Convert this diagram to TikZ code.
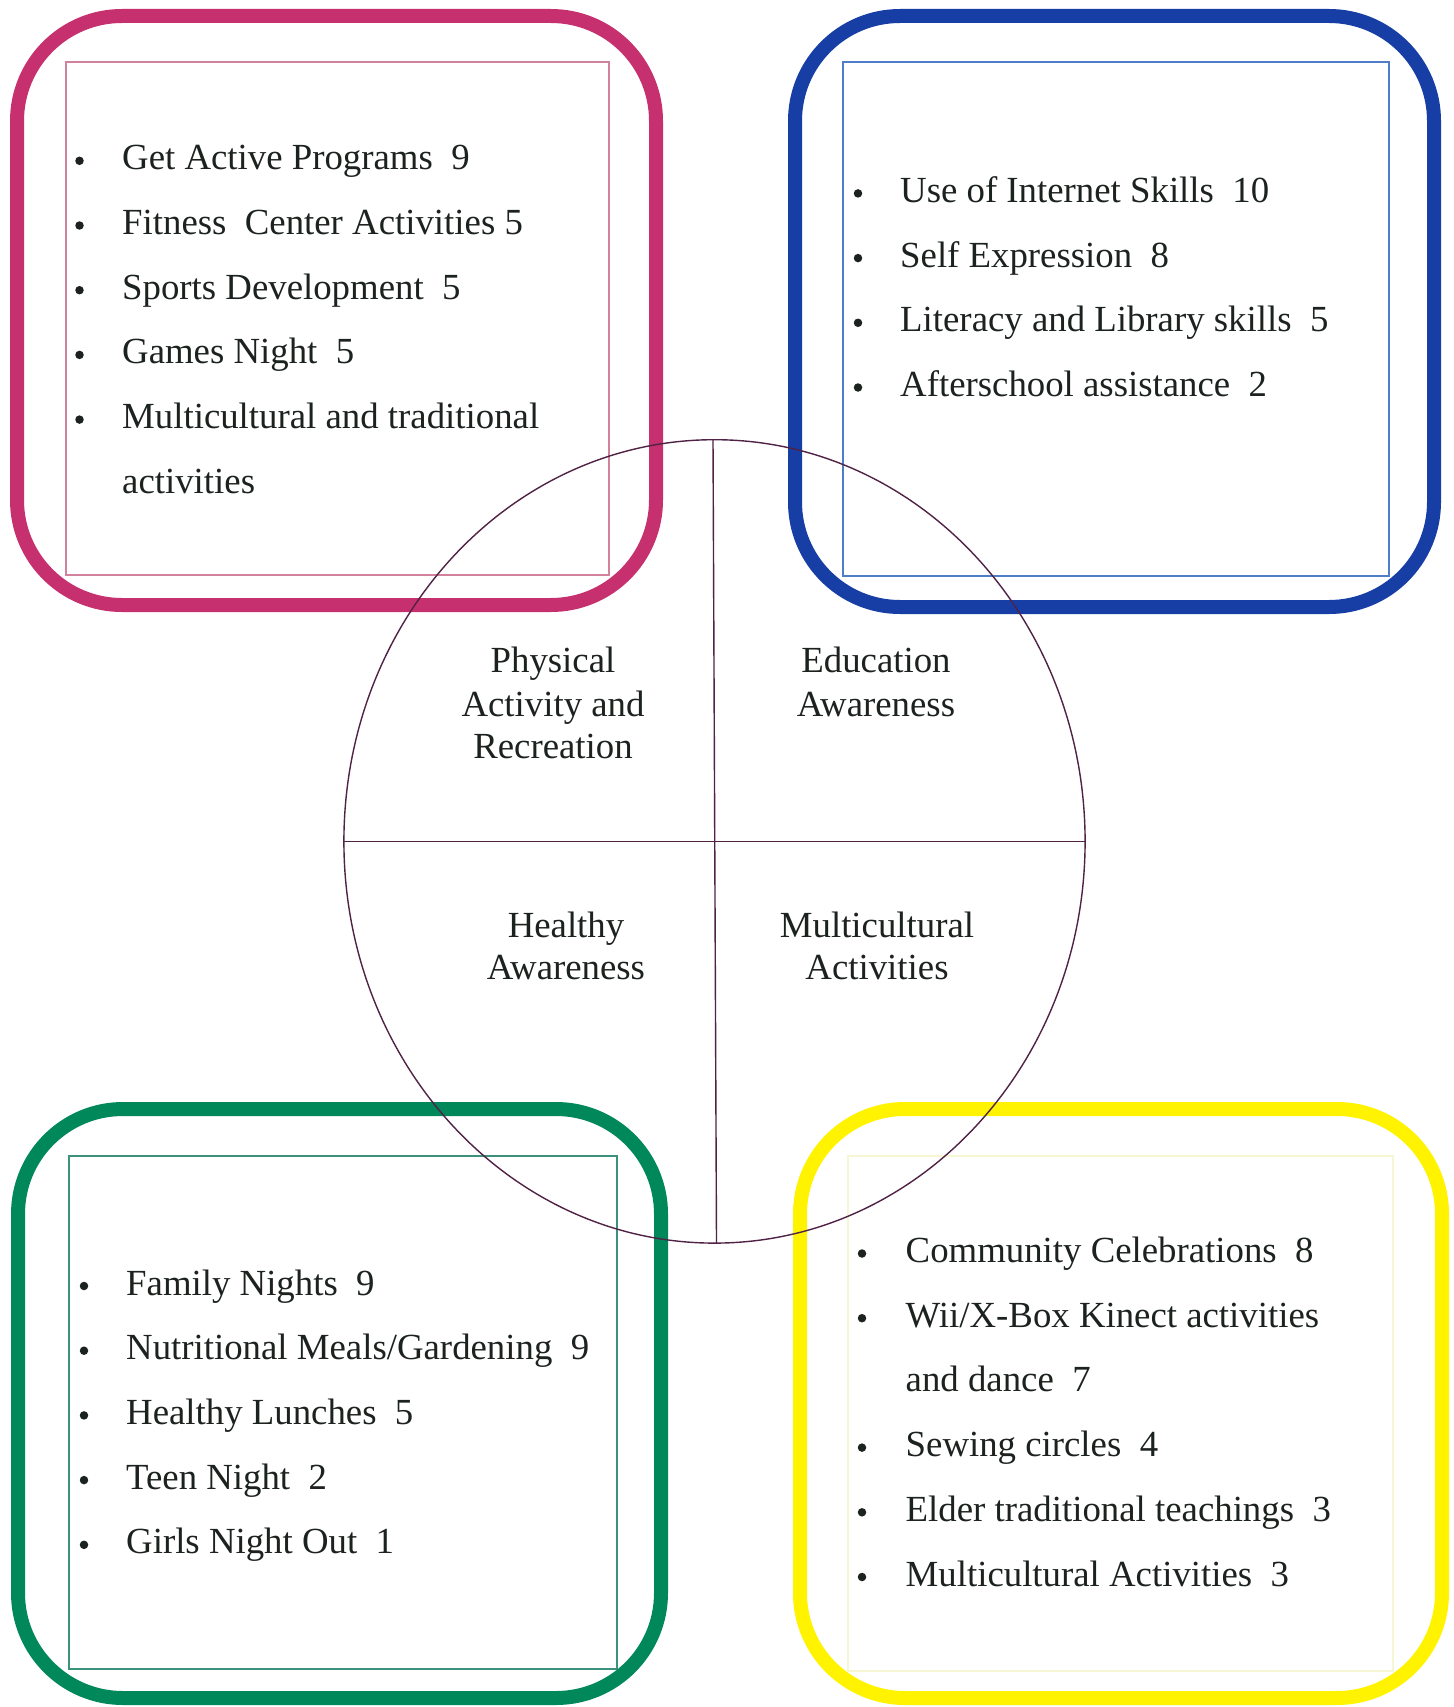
\documentclass[tikz,border=0pt]{standalone}
\usepackage{fontspec}
\setmainfont{Liberation Serif}
\definecolor{pinkc}{RGB}{198,48,110}
\definecolor{pinkt}{RGB}{210,130,155}
\definecolor{bluec}{RGB}{22,62,165}
\definecolor{bluet}{RGB}{80,125,200}
\definecolor{greenc}{RGB}{0,135,90}
\definecolor{greent}{RGB}{60,145,125}
\definecolor{yellowc}{RGB}{255,243,0}
\definecolor{yellowt}{RGB}{246,246,212}
\definecolor{circc}{RGB}{80,35,70}
\definecolor{ink}{RGB}{28,34,30}
\begin{document}
\begin{tikzpicture}[x=1pt,y=-1pt,
  frame/.style={line width=14pt, rounded corners=105pt},
  thin/.style={line width=1.1pt},
  item/.style={anchor=base west, inner sep=0pt, text=ink, font=\fontsize{36.8}{44}\selectfont},
  qlab/.style={anchor=base, inner sep=0pt, text=ink, font=\fontsize{36.8}{44}\selectfont},
  dot/.style={circle, fill=ink, draw=none, inner sep=0pt, minimum size=8.5pt}]
\useasboundingbox (0,0) rectangle (1453,1707);
\fill[white] (0,0) rectangle (1453,1707);

% thin inner rectangles
\draw[thin, pinkt] (66,62) rectangle (609,575);
\draw[thin, bluet] (843,62) rectangle (1389,576);
\draw[thin, greent] (69,1156) rectangle (617,1669);
\draw[thin, yellowt] (848,1156) rectangle (1393,1671);

% thick rounded frames
\draw[frame, pinkc] (17,16) rectangle (656,605);
\draw[frame, bluec] (795,16) rectangle (1434,607);
\draw[frame, greenc] (18,1109) rectangle (661,1698);
\draw[frame, yellowc] (800,1109) rectangle (1442,1698);

% central ellipse with cross
\draw[circc, line width=1.4pt] (714.5,841.4) ellipse [x radius=370.6, y radius=401.7];
\coordinate (vt) at (713,439.7);
\coordinate (vb) at (716.5,1243.1);
\coordinate (hl) at (343.9,841.3);
\coordinate (hr) at (1085.1,841.3);
\draw[circc, line width=1.4pt] (vt) -- (vb);
\draw[circc, line width=1.4pt] (hl) -- (hr);

% quadrant labels
\node[qlab] (p1) at (553,672.6) {Physical};
\node[qlab] (p2) at (553,716) {Activity and};
\node[qlab] (p3) at (553,758.6) {Recreation};
\node[qlab] (e1) at (876,672.6) {Education};
\node[qlab] (e2) at (876,716) {Awareness};
\node[qlab] (h1) at (566,937) {Healthy};
\node[qlab] (h2) at (566,979.6) {Awareness};
\node[qlab] (m1) at (877,937) {Multicultural};
\node[qlab] (m2) at (877,979.6) {Activities};

% pink list
\foreach \y/\t [count=\i] in {169.8/{Get Active Programs\ \ 9},
  234.5/{Fitness\ \ Center Activities 5},
  299.2/{Sports Development\ \ 5},
  363.9/{Games Night\ \ 5},
  428.6/{Multicultural and traditional}}{
  \node[dot] (pb\i) at (79.5,\y-9) {};
  \node[item] (pt\i) at (122,\y) {\t};
}
\node[item] (pt6) at (122,493.3) {activities};

% blue list
\foreach \y/\t [count=\i] in {202.4/{Use of Internet Skills\ \ 10},
  267.1/{Self Expression\ \ 8},
  331.8/{Literacy and Library skills\ \ 5},
  396.5/{Afterschool assistance\ \ 2}}{
  \node[dot] (bb\i) at (858,\y-9) {};
  \node[item] (bt\i) at (900,\y) {\t};
}

% green list
\foreach \y/\t [count=\i] in {1295/{Family Nights\ \ 9},
  1359.7/{Nutritional Meals/Gardening\ \ 9},
  1424.4/{Healthy Lunches\ \ 5},
  1489.1/{Teen Night\ \ 2},
  1553.8/{Girls Night Out\ \ 1}}{
  \node[dot] (gb\i) at (84,\y-9) {};
  \node[item] (gt\i) at (126,\y) {\t};
}

% yellow list
\foreach \y/\t [count=\i] in {1262.5/{Community Celebrations\ \ 8},
  1327.2/{Wii/X-Box Kinect activities},
  1456.6/{Sewing circles\ \ 4},
  1521.3/{Elder traditional teachings\ \ 3},
  1586/{Multicultural Activities\ \ 3}}{
  \node[dot] (yb\i) at (862,\y-9) {};
  \node[item] (yt\i) at (905.5,\y) {\t};
}
\node[item] (yt6) at (905.5,1391.9) {and dance\ \ 7};
\end{tikzpicture}
\end{document}
